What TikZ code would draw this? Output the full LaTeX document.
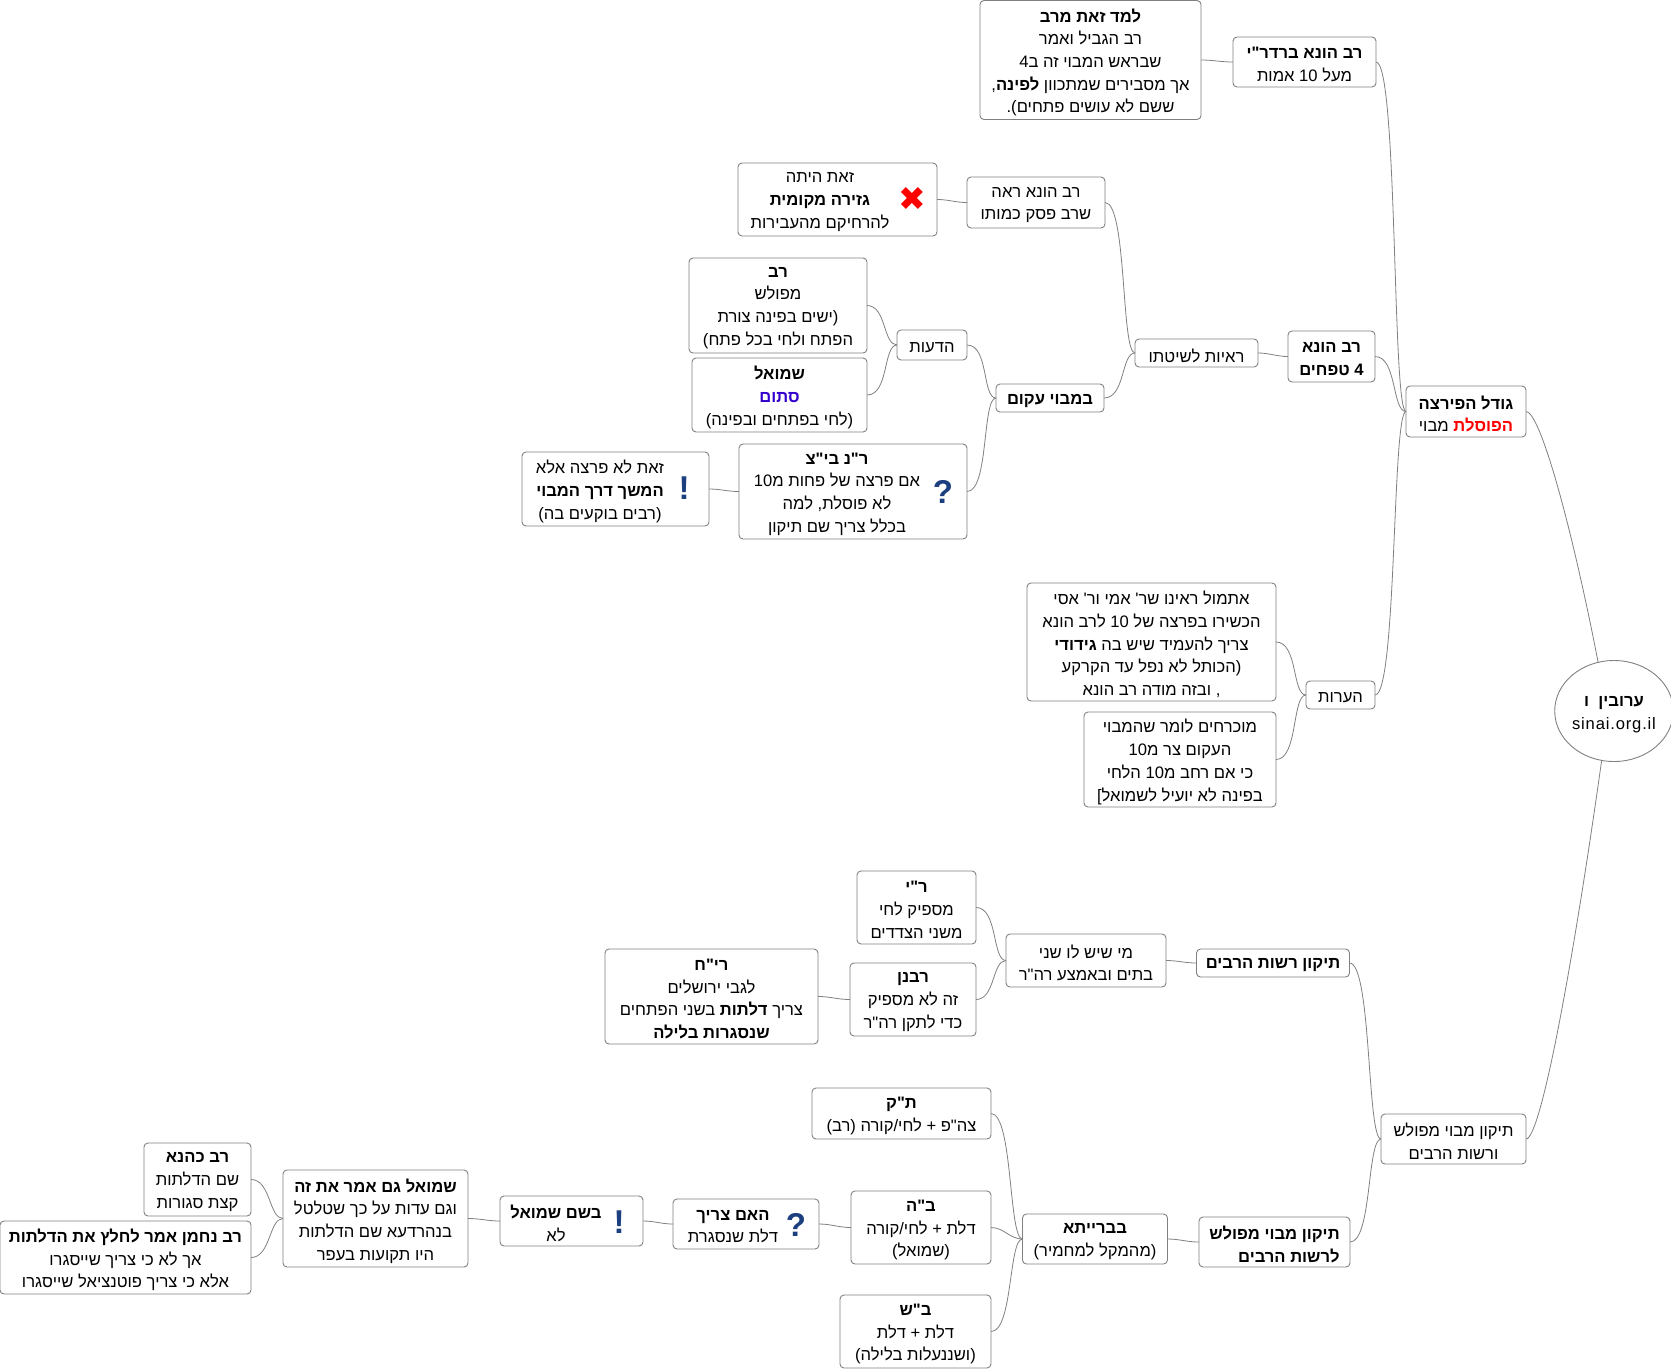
\documentclass[tikz,border=0pt]{standalone}
\usepackage{fontspec}
\usetikzlibrary{shapes.geometric}
\setmainfont[Script=Hebrew, Ligatures=TeXOff]{Liberation Sans}
\newfontfamily\symfont{DejaVu Sans}
\TeXXeTstate=1
\definecolor{edgegray}{HTML}{808080}
\definecolor{iconblue}{HTML}{1B3F7F}
\definecolor{stamblue}{HTML}{3300CC}
\newcommand{\hl}[1]{\raisebox{-2.5pt}[\height][\depth]{\beginR #1\endR}}
\newcommand{\hb}[1]{\hl{\textbf{#1}}}

\begin{document}
\begin{tikzpicture}[x=1pt,y=-1pt,
  idea/.style={draw=edgegray, rounded corners=4pt, line width=0.9pt, inner sep=0pt, outer sep=0pt,
    align=center, font=\fontsize{16.6}{22.7}\selectfont},
  txt/.style={inner sep=0pt, align=center, font=\fontsize{16.6}{22.7}\selectfont},
  conn/.style={draw=edgegray, line width=0.8pt, out=0, in=180, out max distance=22pt, in max distance=14pt},
  iconq/.style={inner sep=0pt, text=iconblue, font=\fontsize{33}{33}\selectfont\bfseries}]
\useasboundingbox (0,0) rectangle (1671,1369);
% root
\node[draw=edgegray, ellipse, line width=0.9pt, minimum width=113pt, minimum height=101pt, inner sep=0pt, align=center,
  font=\fontsize{16.6}{22.7}\selectfont] (root) at (1614,711) {\raisebox{-1.5pt}[\height][\depth]{\hb{ערובין\ \ ו}}\\\raisebox{-4pt}[\height][\depth]{\addfontfeature{LetterSpace=5}sinai.org.il}};
% upper branch
\node[idea, minimum width=120pt, minimum height=51pt] (godel) at (1466,411.5) {\hb{גודל הפירצה}\\\hl{מבוי}\ {\color{red}\hb{הפוסלת}}};
\node[idea, minimum width=143pt, minimum height=50pt] (hunab) at (1304.5,62) {\hb{רב הונא ברדר"י}\\\hl{מעל 10 אמות}};
\node[idea, minimum width=221pt, minimum height=119pt] (lamad) at (1090.5,60) {\hb{למד זאת מרב}\\\hl{רב הגביל ואמר}\\\hl{שבראש המבוי זה ב4}\\\hl{אך מסבירים שמתכוון \textbf{לפינה},}\\\hl{ששם לא עושים פתחים).}};
\node[idea, minimum width=87pt, minimum height=51pt] (huna4) at (1331.5,356.5) {\hb{רב הונא}\\\hb{4 טפחים}};
\node[idea, minimum width=123pt, minimum height=28pt] (reayot) at (1196.5,353) {\hl{ראיות לשיטתו}};
\node[idea, minimum width=138pt, minimum height=51pt] (hunaraa) at (1036,202.5) {\hl{רב הונא ראה}\\\hl{שרב פסק כמותו}};
\node[idea, minimum width=199pt, minimum height=73pt] (zot) at (837.5,199.5) {};
\node[txt] (zottxt) at (820,199.5) {\hl{זאת היתה}\\\hb{גזירה מקומית}\\\hl{להרחיקם מהעבירות}};
\node[inner sep=0pt, text=red, font=\symfont\fontsize{33}{33}\selectfont] (zoticon) at (912,199) {✖};
\node[idea, minimum width=108pt, minimum height=28pt] (akum) at (1050,398) {\hb{במבוי עקום}};
\node[idea, minimum width=70pt, minimum height=30pt] (deot) at (932,345) {\hl{הדעות}};
\node[idea, minimum width=178pt, minimum height=95pt] (rav) at (778,305.5) {\hb{רב}\\\hl{מפולש}\\\hl{(ישים בפינה צורת}\\\hl{הפתח ולחי בכל פתח)}};
\node[idea, minimum width=175pt, minimum height=74pt] (shmuel) at (779.5,395) {\hb{שמואל}\\{\color{stamblue}\hb{סתום}}\\\hl{(לחי בפתחים ובפינה)}};
\node[idea, minimum width=228pt, minimum height=95pt] (ran) at (853,491.5) {};
\node[txt] (rantxt) at (837,491.5) {\hb{ר"נ בי"צ}\\\hl{אם פרצה של פחות מ10}\\\hl{לא פוסלת, למה}\\\hl{בכלל צריך שם תיקון}};
\node[iconq] (ranicon) at (943,492) {?};
\node[idea, minimum width=187pt, minimum height=74pt] (zotlo) at (615.5,489) {};
\node[txt] (zotlotxt) at (600,489) {\hl{זאת לא פרצה אלא}\\\hb{המשך דרך המבוי}\\\hl{(רבים בוקעים בה)}};
\node[iconq] (zotloicon) at (684,488) {!};
\node[idea, minimum width=69pt, minimum height=28pt] (notes) at (1340.5,695) {\hl{הערות}};
\node[idea, minimum width=249pt, minimum height=118pt] (etmol) at (1151.5,642) {\hl{אתמול ראינו שר' אמי ור' אסי}\\\hl{הכשירו בפרצה של 10 לרב הונא}\\\hl{צריך להעמיד שיש בה \textbf{גידודי}}\\\hl{(הכותל לא נפל עד הקרקע}\\\hl{, ובזה מודה רב הונא}};
\node[idea, minimum width=192pt, minimum height=95pt] (mukrach) at (1180,759.5) {\hl{מוכרחים לומר שהמבוי}\\\hl{העקום צר מ10}\\\hl{כי אם רחב מ10 הלחי}\\\hl{בפינה לא יועיל לשמואל]}};
% lower branch
\node[idea, minimum width=145pt, minimum height=50pt] (mavoi) at (1453.5,1139) {\hl{תיקון מבוי מפולש}\\\hl{ורשות הרבים}};
\node[idea, minimum width=153pt, minimum height=28pt] (reshut) at (1273,963) {\hb{תיקון רשות הרבים}};
\node[idea, minimum width=160pt, minimum height=53pt] (misheyesh) at (1086,960.5) {\hl{מי שיש לו שני}\\\hl{בתים ובאמצע רה"ר}};
\node[idea, minimum width=119pt, minimum height=73pt] (ry) at (916.5,907.5) {\hb{ר"י}\\\hl{מספיק לחי}\\\hl{משני הצדדים}};
\node[idea, minimum width=126pt, minimum height=73pt] (rabanan) at (913,999.5) {\hb{רבנן}\\\hl{זה לא מספיק}\\\hl{כדי לתקן רה"ר}};
\node[idea, minimum width=213pt, minimum height=95pt] (riach) at (711.5,996.5) {\hb{רי"ח}\\\hl{לגבי ירושלים}\\\hl{צריך \textbf{דלתות} בשני הפתחים}\\\hb{שנסגרות בלילה}};
\node[idea, minimum width=151pt, minimum height=50pt, align=right] (mavoir) at (1274.5,1242) {\hb{תיקון מבוי מפולש}\\\hb{לרשות הרבים}};
\node[idea, minimum width=145pt, minimum height=50pt] (baraita) at (1095,1239) {\hb{בברייתא}\\\hl{(מהמקל למחמיר)}};
\node[idea, minimum width=179pt, minimum height=51pt] (tk) at (901.5,1113.5) {\hb{ת"ק}\\\hl{צה"פ + לחי/קורה (רב)}};
\node[idea, minimum width=140pt, minimum height=73pt] (bh) at (921,1227.5) {\hb{ב"ה}\\\hl{דלת + לחי/קורה}\\\hl{(שמואל)}};
\node[idea, minimum width=151pt, minimum height=73pt] (bs) at (915.5,1331.5) {\hb{ב"ש}\\\hl{דלת + דלת}\\\hl{(ושננעלות בלילה)}};
\node[idea, minimum width=146pt, minimum height=50pt] (haim) at (746,1224) {};
\node[txt] (haimtxt) at (733,1224) {\hb{האם צריך}\\\hl{דלת שנסגרת}};
\node[iconq] (haimicon) at (796,1225) {?};
\node[idea, minimum width=143pt, minimum height=50pt] (beshem) at (571.5,1221) {};
\node[txt] (beshemtxt) at (556,1221) {\hb{בשם שמואל}\\\hl{לא}};
\node[iconq] (beshemicon) at (619,1222) {!};
\node[idea, minimum width=185pt, minimum height=97pt] (gam) at (375.5,1218.5) {\hb{שמואל גם אמר את זה}\\\hl{וגם עדות על כך שטלטל}\\\hl{בנהרדעא שם הדלתות}\\\hl{היו תקועות בעפר}};
\node[idea, minimum width=107pt, minimum height=73pt] (kahana) at (197.5,1179.5) {\hb{רב כהנא}\\\hl{שם הדלתות}\\\hl{קצת סגורות}};
\node[idea, minimum width=251pt, minimum height=73pt] (nachman) at (125.5,1257.5) {\hb{רב נחמן אמר לחלץ את הדלתות}\\\hl{אך לא כי צריך שייסגרו}\\\hl{אלא כי צריך פוטנציאל שייסגרו}};
% connectors
\draw[draw=edgegray, line width=0.8pt, out=0, in=101, out distance=14pt, in distance=140pt] (godel.east) to (root.108);
\draw[draw=edgegray, line width=0.8pt, out=0, in=-98, out distance=15pt, in distance=200pt] (mavoi.east) to (root.-104);
\draw[conn] (hunab.east) to (godel.west);
\draw[conn] (huna4.east) to (godel.west);
\draw[conn] (notes.east) to (godel.west);
\draw[conn] (lamad.east) to (hunab.west);
\draw[conn] (reayot.east) to (huna4.west);
\draw[conn] (hunaraa.east) to (reayot.west);
\draw[conn] (akum.east) to (reayot.west);
\draw[conn] (zot.east) to (hunaraa.west);
\draw[conn] (deot.east) to (akum.west);
\draw[conn] (ran.east) to (akum.west);
\draw[conn] (rav.east) to (deot.west);
\draw[conn] (shmuel.east) to (deot.west);
\draw[conn] (zotlo.east) to (ran.west);
\draw[conn] (etmol.east) to (notes.west);
\draw[conn] (mukrach.east) to (notes.west);
\draw[conn] (reshut.east) to (mavoi.west);
\draw[conn] (mavoir.east) to (mavoi.west);
\draw[conn] (misheyesh.east) to (reshut.west);
\draw[conn] (ry.east) to (misheyesh.west);
\draw[conn] (rabanan.east) to (misheyesh.west);
\draw[conn] (riach.east) to (rabanan.west);
\draw[conn] (baraita.east) to (mavoir.west);
\draw[conn] (tk.east) to (baraita.west);
\draw[conn] (bh.east) to (baraita.west);
\draw[conn] (bs.east) to (baraita.west);
\draw[conn] (haim.east) to (bh.west);
\draw[conn] (beshem.east) to (haim.west);
\draw[conn] (gam.east) to (beshem.west);
\draw[conn] (kahana.east) to (gam.west);
\draw[conn] (nachman.east) to (gam.west);
\end{tikzpicture}
\end{document}
